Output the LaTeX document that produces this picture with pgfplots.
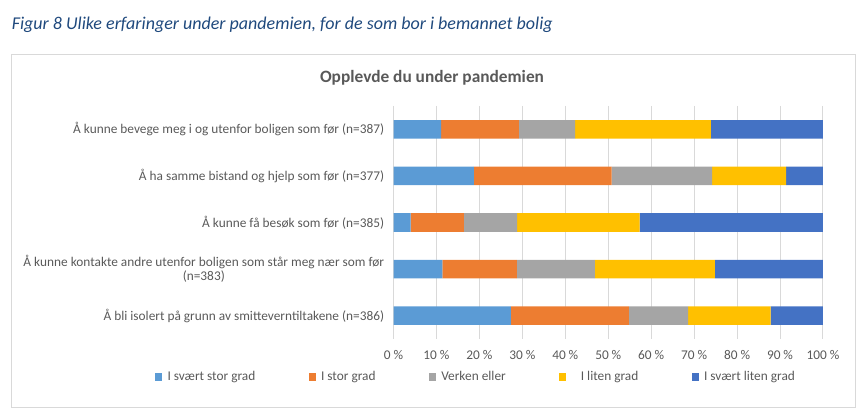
\documentclass[border=0pt]{standalone}
\usepackage{pgfplots}
\pgfplotsset{compat=1.18}
\usepackage{fontspec}
\setmainfont{Carlito}
\definecolor{cA}{HTML}{5B9BD5}
\definecolor{cB}{HTML}{ED7D31}
\definecolor{cC}{HTML}{A5A5A5}
\definecolor{cD}{HTML}{FFC000}
\definecolor{cE}{HTML}{4472C4}
\definecolor{txt}{HTML}{595959}
\definecolor{capc}{RGB}{31,73,125}
\definecolor{gridc}{HTML}{D9D9D9}
\begin{document}
\begin{tikzpicture}
\useasboundingbox (0pt,0pt) rectangle ({862*0.75pt},{-416*0.75pt});
\node[anchor=base west,inner sep=0pt,text=capc,font=\fontsize{13.5}{16}\selectfont\itshape] at ({11.5*0.75pt},{-30*0.75pt}) {Figur 8 Ulike erfaringer under pandemien, for de som bor i bemannet bolig};
\draw[gridc,line width=0.75pt] ({11*0.75pt},{-55*0.75pt}) rectangle ({855*0.75pt},{-407*0.75pt});
\node[text=txt,font=\fontsize{13}{16}\selectfont\bfseries,inner sep=0pt] at ({432*0.75pt},{-78*0.75pt}) {Opplevde du under pandemien};
\begin{axis}[
  at={({393.5*0.75pt},{-106*0.75pt})}, anchor=north west,
  scale only axis, width=322.1pt, height=174.75pt,
  xbar stacked, bar width=13.9pt,
  xmin=0, xmax=100, ymin=-0.5, ymax=4.5, y dir=reverse,
  xtick={0,10,...,100}, ytick={0,1,2,3,4},
  yticklabels={Å kunne bevege meg i og utenfor boligen som før (n=387),
    Å ha samme bistand og hjelp som før (n=377),
    Å kunne få besøk som før (n=385),
    {Å kunne kontakte andre utenfor boligen som står meg nær som før\\(n=383)},
    Å bli isolert på grunn av smitteverntiltakene (n=386)},
  xticklabel={\pgfmathprintnumber{\tick}\hspace{0.22em}\%},
  /pgf/number format/assume math mode=true,
  major tick length=0pt,
  axis line style={draw=none},
  xmajorgrids, grid style={gridc,line width=0.75pt},
  tick label style={text=txt,font=\fontsize{10}{10.5}\selectfont},
  yticklabel style={align=center,xshift=-3.5pt},
  xticklabel style={yshift=-5pt},
  legend columns=5,
  legend style={at={(-0.565,-0.163)},anchor=west,draw=none,fill=none,
    font=\fontsize{10}{12}\selectfont,text=txt,
    /tikz/every even column/.append style={column sep=38pt},
    cells={anchor=west}},
  legend image code/.code={\fill[#1] (0pt,-2.7pt) rectangle (5.3pt,2.7pt); \path (7.3pt,0pt);},
]
\addplot+[fill=cA,draw=none] coordinates {(11.1,0) (18.7,1) (4.0,2) (11.4,3) (27.3,4)};
\addlegendentry{I svært stor grad}
\addplot+[fill=cB,draw=none] coordinates {(18.1,0) (32.1,1) (12.4,2) (17.3,3) (27.5,4)};
\addlegendentry{I stor grad}
\addplot+[fill=cC,draw=none] coordinates {(13.1,0) (23.4,1) (12.4,2) (18.2,3) (13.8,4)};
\addlegendentry{Verken eller}
\addplot+[fill=cD,draw=none] coordinates {(31.6,0) (17.2,1) (28.5,2) (27.9,3) (19.2,4)};
\addlegendentry{\hspace{7pt}I liten grad}
\addplot+[fill=cE,draw=none] coordinates {(26.2,0) (8.6,1) (42.7,2) (25.2,3) (12.2,4)};
\addlegendentry{I svært liten grad}
\end{axis}
\end{tikzpicture}
\end{document}
